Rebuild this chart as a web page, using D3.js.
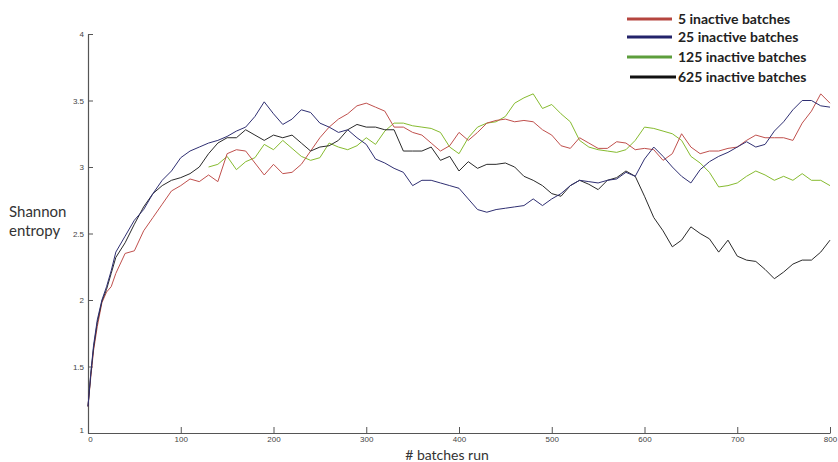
<!DOCTYPE html>
<html>
<head>
<meta charset="utf-8">
<script src="https://cdn.jsdelivr.net/npm/d3@7"></script>
<style>
  html, body { margin: 0; padding: 0; background: #fff; }
  svg { display: block; }
</style>
</head>
<body>
<svg id="chart" width="838" height="462"></svg>
<script>
// ---- data ----
const batches = [0,3,6,10,15,20,25,30,40,50,60,70,80,90,100,110,120,130,140,150,160,170,180,190,200,
  210,220,230,240,250,260,270,280,290,300,310,320,330,340,350,360,370,380,390,400,
  410,420,430,440,450,460,470,480,490,500,510,520,530,540,550,560,570,580,590,600,
  610,620,630,640,650,660,670,680,690,700,710,720,730,740,750,760,770,780,790,800];

const red5 = [1.2,1.42,1.62,1.8,1.98,2.06,2.1,2.2,2.35,2.37,2.52,2.62,2.72,2.82,2.86,2.91,2.89,2.94,2.89,3.1,3.13,3.12,3.03,2.94,3.02,
  2.95,2.96,3.02,3.12,3.22,3.3,3.36,3.4,3.46,3.48,3.45,3.42,3.3,3.3,3.26,3.24,3.18,3.12,3.16,3.26,
  3.2,3.26,3.33,3.35,3.36,3.34,3.35,3.34,3.28,3.24,3.16,3.14,3.22,3.18,3.14,3.14,3.19,3.18,3.13,3.14,
  3.13,3.05,3.1,3.25,3.15,3.1,3.12,3.12,3.14,3.15,3.2,3.24,3.22,3.22,3.22,3.2,3.33,3.42,3.55,3.48];

const navy25 = [1.2,1.45,1.66,1.85,2.0,2.1,2.22,2.36,2.48,2.6,2.68,2.8,2.9,2.97,3.07,3.12,3.15,3.18,3.2,3.23,3.27,3.3,3.38,3.49,3.4,
  3.32,3.36,3.43,3.41,3.33,3.3,3.26,3.28,3.22,3.17,3.06,3.03,2.99,2.96,2.86,2.9,2.9,2.88,2.86,2.84,
  2.76,2.68,2.66,2.68,2.69,2.7,2.71,2.76,2.71,2.76,2.8,2.86,2.9,2.89,2.88,2.9,2.91,2.96,2.93,3.06,
  3.15,3.08,3.0,2.93,2.88,2.98,3.04,3.08,3.11,3.15,3.19,3.15,3.17,3.27,3.34,3.43,3.5,3.5,3.46,3.45];

const green125 = [null,null,null,null,null,null,null,null,null,null,null,null,null,null,null,null,null,3.0,3.02,3.08,2.98,3.04,3.07,3.17,3.13,
  3.2,3.14,3.08,3.05,3.07,3.18,3.15,3.13,3.16,3.22,3.17,3.27,3.33,3.33,3.31,3.3,3.29,3.26,3.15,3.1,
  3.22,3.3,3.33,3.34,3.38,3.48,3.52,3.55,3.44,3.47,3.4,3.34,3.2,3.15,3.13,3.12,3.11,3.13,3.2,3.3,
  3.29,3.27,3.25,3.2,3.08,3.03,2.96,2.85,2.86,2.88,2.93,2.97,2.94,2.9,2.93,2.9,2.95,2.9,2.9,2.86];

const black625 = [1.2,1.44,1.64,1.83,1.99,2.08,2.2,2.32,2.43,2.57,2.7,2.8,2.86,2.9,2.92,2.95,3.0,3.1,3.18,3.22,3.22,3.28,3.24,3.2,3.24,
  3.22,3.24,3.18,3.12,3.15,3.16,3.2,3.28,3.32,3.3,3.3,3.28,3.28,3.12,3.12,3.12,3.15,3.05,3.08,2.97,
  3.04,2.99,3.02,3.02,3.03,3.0,2.93,2.9,2.86,2.8,2.78,2.86,2.9,2.87,2.83,2.9,2.92,2.97,2.93,2.78,
  2.62,2.52,2.4,2.45,2.55,2.5,2.46,2.36,2.45,2.33,2.3,2.29,2.23,2.16,2.21,2.27,2.3,2.3,2.36,2.45];

const seriesNames = ["5 inactive batches","25 inactive batches","125 inactive batches","625 inactive batches"];
const lineColors = ["#c0504d","#2f2f72","#86bb2f","#2a2a2a"];
const legendColors = ["#b5453f","#23236a","#5d9e3c","#111111"];
const xTicks = [0,100,200,300,400,500,600,700,800];
const yTicks = [1,1.5,2,2.5,3,3.5,4];
const xLabel = "# batches run";
const yLabel = ["Shannon","entropy"];

// ---- drawing ----
const svg = d3.select("#chart");
const x = d3.scaleLinear().domain([0,800]).range([88,830]);
const y = d3.scaleLinear().domain([1,4]).range([433,34]);

const axisColor = "#555";

const xAxis = svg.append("g").attr("transform","translate(0,433)")
  .call(d3.axisBottom(x).tickValues(xTicks).tickSizeInner(-6).tickSizeOuter(0).tickFormat(d3.format("d")));
xAxis.selectAll("text").attr("dy","0.7em").attr("y",3);
const yAxis = svg.append("g").attr("transform","translate(88,0)")
  .call(d3.axisLeft(y).tickValues(yTicks).tickSizeInner(-5).tickSizeOuter(0).tickFormat(d => String(d)));
yAxis.selectAll("text").attr("x",-4);
[xAxis,yAxis].forEach(a => {
  a.select(".domain").attr("stroke",axisColor).attr("stroke-width",1.2);
  a.selectAll(".tick line").attr("stroke",axisColor);
  a.selectAll("text").attr("fill","#444").attr("font-family","'Liberation Sans Narrow','Liberation Sans',sans-serif").attr("font-size",8);
});
xAxis.selectAll(".tick").filter(d => d === 0).select("text").attr("x",2);
yAxis.selectAll(".tick").filter(d => d === 1).select("text").attr("y",-3);

const allSeries = [red5, navy25, green125, black625];
const line = d3.line()
  .defined(d => d[1] !== null)
  .x(d => x(d[0])).y(d => y(d[1]))
  .curve(d3.curveLinear);

const order = [2,0,3,1];
order.forEach(i => {
  const pts = batches.map((b,j) => [b, allSeries[i][j]]);
  svg.append("path").datum(pts)
    .attr("d", line)
    .attr("fill","none")
    .attr("stroke", lineColors[i])
    .attr("stroke-width",1)
    .attr("stroke-linejoin","round");
});

// axis titles
svg.append("text").attr("x",447).attr("y",460).attr("text-anchor","middle")
  .attr("font-family","Lato, 'Open Sans', sans-serif").attr("font-size",14).attr("fill","#333").text(xLabel);
yLabel.forEach((t,i) => {
  svg.append("text").attr("x",9).attr("y",217 + i*19)
    .attr("font-family","Lato, 'Open Sans', sans-serif").attr("font-size",15).attr("fill","#333").text(t);
});

// legend
const lg = svg.append("g");
seriesNames.forEach((name,i) => {
  const ly = [19,37,57,77][i];
  lg.append("line").attr("x1", i===3 ? 630 : 627).attr("x2", i===3 ? 676 : 672)
    .attr("y1",ly).attr("y2",ly).attr("stroke",legendColors[i]).attr("stroke-width",3);
  lg.append("text").attr("x",678).attr("y",ly+5)
    .attr("font-family","Lato, 'Open Sans', sans-serif").attr("font-weight","bold").attr("font-size",14)
    .attr("fill","#222").text(name);
});
</script>
</body>
</html>
